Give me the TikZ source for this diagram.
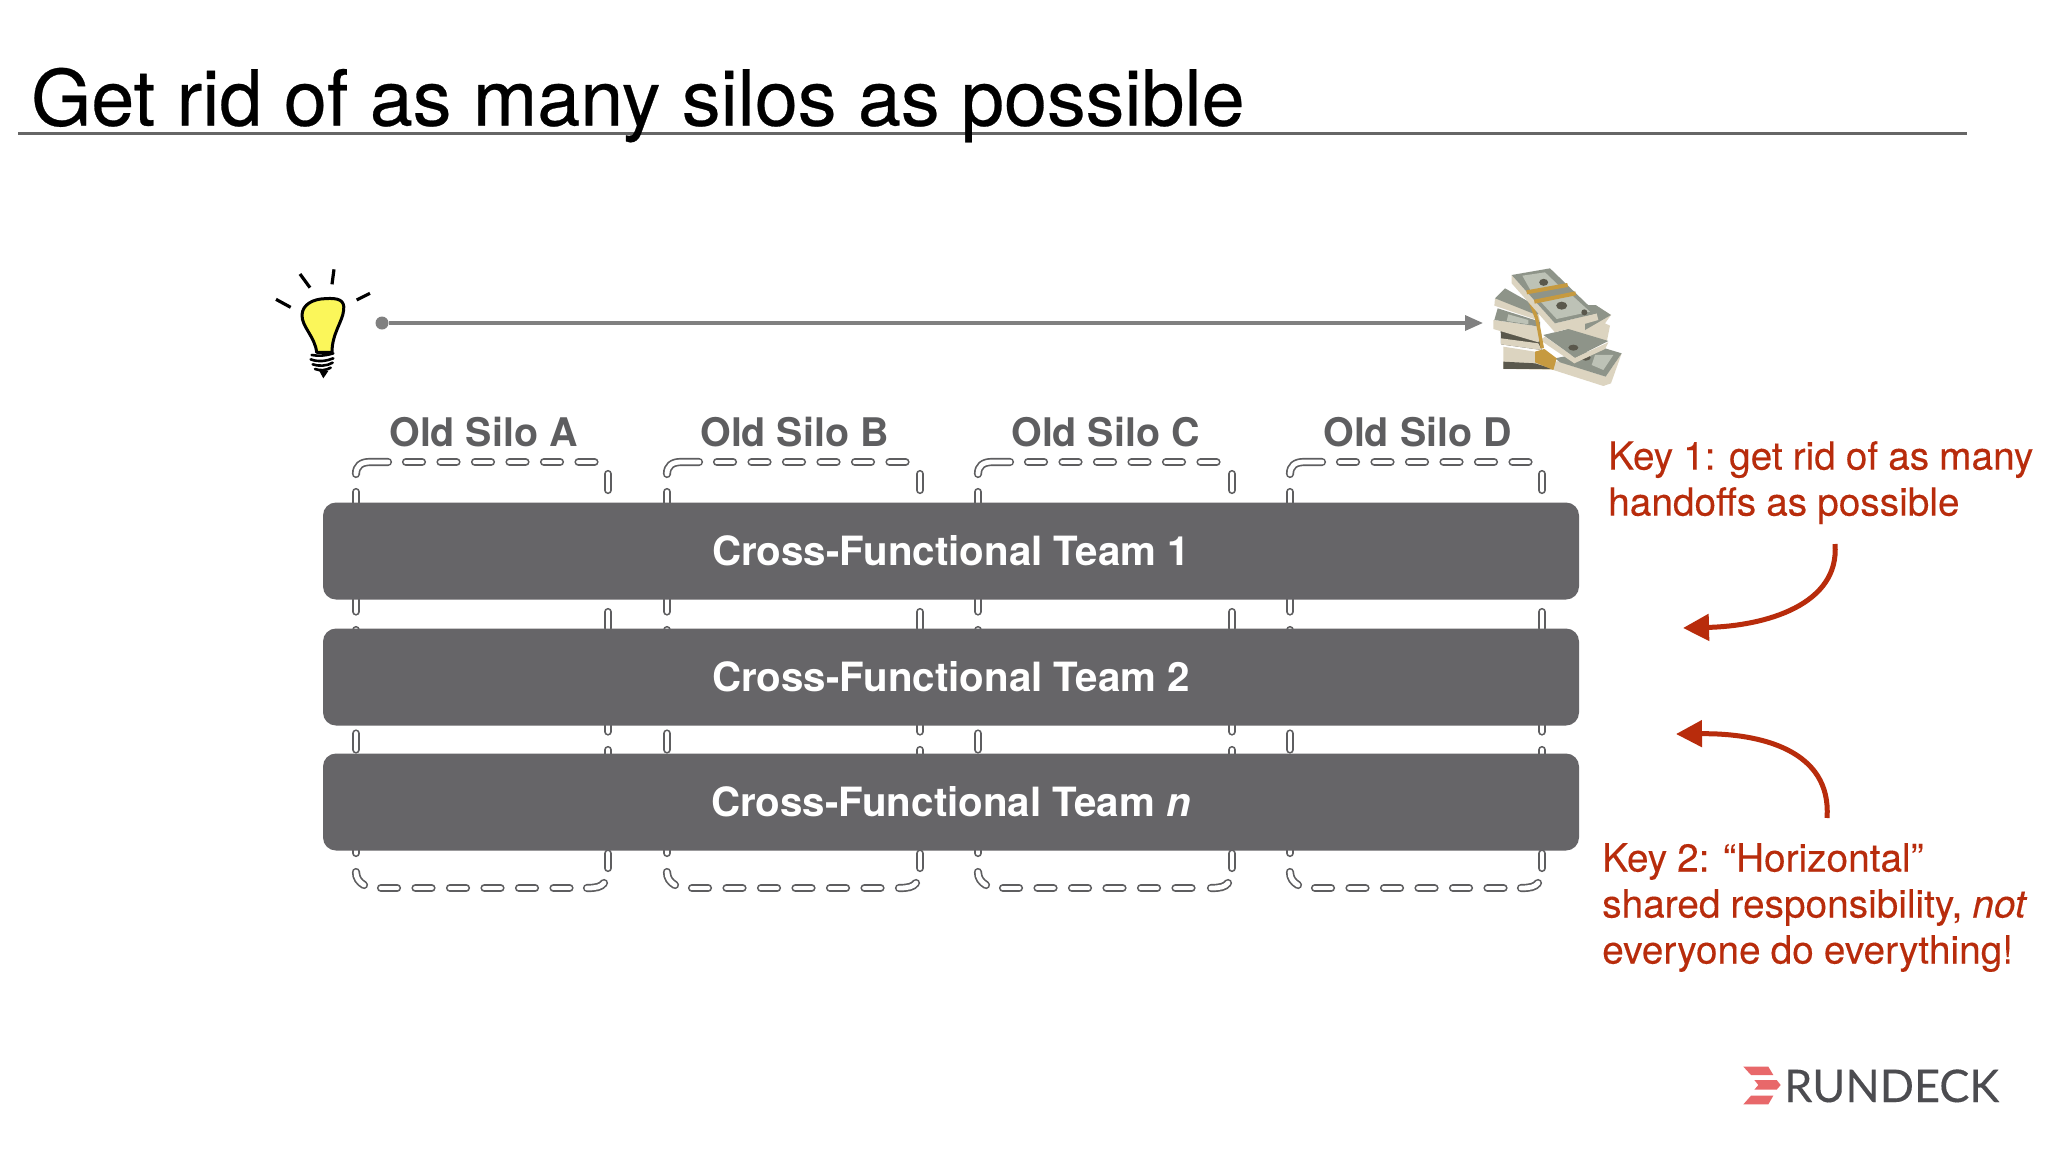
\documentclass[tikz,border=0pt]{standalone}
\usepackage{fontspec}
\setmainfont{TeX Gyre Heros}
\newfontfamily\logofont[FakeBold=0.2]{Lato}
\newfontfamily\titlefont[FakeBold=0.35]{TeX Gyre Heros}
\newfontfamily\keyfont[WordSpace=0.93,FakeBold=0.2]{TeX Gyre Heros}
\usetikzlibrary{arrows.meta}
\definecolor{titlerule}{HTML}{666666}
\definecolor{teamgrey}{HTML}{666568}
\definecolor{silogrey}{HTML}{5E5E60}
\definecolor{keyred}{HTML}{B82C0C}
\definecolor{logored}{HTML}{E8686A}
\definecolor{logogrey}{HTML}{4C4C50}
\definecolor{billgrey}{HTML}{8E9489}
\definecolor{billlight}{HTML}{BDC2B6}
\definecolor{billdark}{HTML}{5A584C}
\definecolor{papercream}{HTML}{DCD4C0}
\definecolor{strapgold}{HTML}{C69A40}
\definecolor{bulbyellow}{HTML}{FBF65A}
\tikzset{
  titletext/.style={anchor=base west,inner sep=0pt,font=\titlefont\fontsize{77.3}{80}\selectfont},
  silodash/.style={draw=silogrey,line width=1.7pt,double=white,double distance=4.8pt,line cap=round},
  silopattern/.style={silodash,dash pattern=on 16pt off 18.5pt},
  silolabel/.style={anchor=base,inner sep=0pt,text=silogrey,font=\fontsize{39.4}{42}\selectfont\bfseries},
  teambar/.style={fill=teamgrey,rounded corners=13pt,minimum width=1256pt,minimum height=97pt,inner sep=0pt,
    text=white,font=\fontsize{40.3}{42}\selectfont\bfseries},
  keytext/.style={anchor=north west,inner sep=0pt,align=left,text=keyred,font=\keyfont\fontsize{38.8}{46}\selectfont},
  keyarrow/.style={draw=keyred,line width=5pt,-{Triangle[length=26pt,width=26pt]}},
  timeline/.style={draw=gray,line width=3.3pt,-{Triangle[length=18pt,width=15pt]}},
  raystroke/.style={line width=3.2pt,line cap=butt},
  billface/.style={fill=billgrey},
  paperside/.style={fill=papercream},
  strapband/.style={draw=strapgold,line width=4pt},
}
\begin{document}
\begin{tikzpicture}[x=1pt,y=-1pt]
  \useasboundingbox (0,0) rectangle (2048,1152);
  \fill[white] (0,0) rectangle (2048,1152);

  \draw[titlerule,line width=3pt] (18,133) -- (1967,133);
  \node[titletext] (title) at (31,125.5) {Get rid of as many silos as possible};

  \begin{scope}[shift={(270,265)},x=0.3333pt,y=-0.3333pt]
    \draw[raystroke] (18,103) -- (62,127) (90,27) -- (120,68) (192,13) -- (186,58) (260,105) -- (300,85);
    \draw[fill=bulbyellow,line width=3pt,line join=round] (165,101) .. controls (205,98) and (225,105) .. (221,135)
      .. controls (218,170) and (186,205) .. (186,262) -- (140,262)
      .. controls (135,215) and (95,185) .. (96,150) .. controls (97,118) and (130,102) .. (165,101) -- cycle;
    \draw[line width=2.6pt,line cap=round] (125,270) .. controls (145,274) and (170,272) .. (190,265)
      (122,283) .. controls (145,292) and (170,288) .. (190,280)
      (128,298) .. controls (145,304) and (170,304) .. (188,293)
      (135,312) .. controls (150,318) and (170,316) .. (182,308);
    \fill (148,318) -- (175,318) -- (160,340) -- cycle;
  \end{scope}

  \begin{scope}[shift={(1485,255)},x=0.3333pt,y=-0.3333pt]
    \fill[paperside] (240,225) -- (330,150) -- (378,180) -- (360,205) -- (375,212) -- (365,262) -- cycle;
    \fill[billgrey] (300,150) -- (332,150) -- (378,180) -- (300,225) -- cycle;
    \fill[papercream] (55,275) -- (150,290) -- (215,322) -- (210,345) -- (55,342) -- cycle;
    \fill[billdark] (55,320) -- (150,325) -- (205,342) -- (55,342) -- cycle;
    \fill[paperside] (205,345) -- (215,318) -- (362,365) -- (410,295) -- (378,385) -- (355,393) -- cycle;
    \fill[billface] (210,310) -- (360,280) -- (410,295) -- (362,365) -- (225,322) -- cycle;
    \fill[billlight] (330,300) -- (385,300) -- (355,345) -- (320,330) -- cycle;
    \fill[billdark] (302,308) ellipse (5pt and 3pt);
    \fill[strapgold] (150,290) -- (178,282) -- (215,310) -- (205,345) -- (150,322) -- cycle;
    \fill[billdark] (47,225) -- (160,240) -- (170,285) -- (48,268) -- cycle;
    \fill[papercream] (48,250) -- (160,265) -- (170,285) -- (48,268) -- cycle;
    \fill[paperside] (165,255) -- (180,245) -- (270,308) -- (370,262) -- (360,282) -- (268,325) -- cycle;
    \fill[billface] (175,240) -- (250,222) -- (370,258) -- (270,308) -- cycle;
    \fill[billdark] (265,278) ellipse (5pt and 3pt);
    \fill[paperside] (25,195) -- (165,215) -- (170,240) -- (160,262) -- (25,222) -- cycle;
    \fill[billface] (38,160) -- (165,200) -- (165,215) -- (28,195) -- cycle;
    \fill[billlight] (70,178) -- (130,195) -- (130,208) -- (65,198) -- cycle;
    \fill[paperside] (30,130) -- (160,175) -- (165,198) -- (28,152) -- cycle;
    \fill[billface] (30,130) -- (60,100) -- (175,165) -- (155,180) -- cycle;
    \draw[strapband,line width=3.4pt] (130,125) -- (155,190) -- (162,225) -- (172,280);
    \fill[paperside] (80,60) -- (80,85) -- (210,232) -- (340,195) -- (335,175) -- (210,205) -- cycle;
    \fill[billface] (80,60) -- (195,40) -- (335,175) -- (210,205) -- cycle;
    \fill[billlight] (112,62) -- (180,52) -- (225,95) -- (140,112) -- cycle;
    \fill[billlight] (165,138) -- (260,120) -- (315,170) -- (215,192) -- cycle;
    \fill[billdark] (176,82) ellipse (4.5pt and 3.5pt);
    \fill[billdark] (230,152) ellipse (5.5pt and 4pt);
    \fill[billdark] (298,172) ellipse (3pt and 3pt);
    \draw[strapband] (125,112) -- (248,90);
    \draw[strapband] (148,140) -- (272,115);
  \end{scope}

  \node[circle,fill=gray,minimum size=13pt,inner sep=0pt] (startdot) at (382,323) {};
  \coordinate (moneytip) at (1483,323);
  \draw[timeline] (startdot) -- (moneytip);

  \foreach \x/\w/\lab in {356/252/A,667/253/B,978/254/C,1290/252/D} {
    \begin{scope}[shift={(\x,462)}]
      \draw[silodash] (0,12) .. controls (0,4) and (5,0) .. (14,0) -- (32,0);
      \draw[silopattern] (50,0) -- (240,0);
      \draw[silopattern] (\w,12) -- (\w,406);
      \draw[silodash] (\w-21,426) .. controls (\w-12,426) and (\w-7,425) .. (\w-4,421);
      \draw[silopattern] (25,426) -- (214,426);
      \draw[silopattern] (0,30) -- (0,393);
      \draw[silodash] (0,410) .. controls (0,416) and (3,420) .. (8,423);
      \node[silolabel] (silo\lab) at (127.5,-16) {Old Silo \lab};
    \end{scope}
  }

  \node[teambar] (teamone) at (951,551) {Cross-Functional Team 1};
  \node[teambar] (teamtwo) at (951,677) {Cross-Functional Team 2};
  \node[teambar] (teamn) at (951,802) {Cross-Functional Team \textit{n}};

  \node[keytext] (keyone) at (1608,441) {Key 1: get rid of as many\\handoffs as possible};
  \coordinate (keyonefrom) at (1835,544);
  \coordinate (keyoneto) at (1683,628);
  \draw[keyarrow] (keyonefrom) .. controls (1840,605) and (1765,626) .. (keyoneto);

  \node[keytext] (keytwo) at (1602,843) {Key 2: “Horizontal”\\shared responsibility, \textit{not}\\everyone do everything!};
  \coordinate (keytwofrom) at (1827,818);
  \coordinate (keytwoto) at (1676,734);
  \draw[keyarrow] (keytwofrom) .. controls (1832,750) and (1760,733) .. (keytwoto);

  \begin{scope}[shift={(1735,1055)},x=0.3333pt,y=-0.3333pt]
    \fill[logored] (25,35) -- (100,35) -- (115,60) -- (48,60) -- cycle;
    \fill[logored] (58,75) -- (125,75) -- (137,90) -- (125,104) -- (58,104) -- (70,90) -- cycle;
    \fill[logored] (48,122) -- (115,122) -- (100,148) -- (25,148) -- cycle;
  \end{scope}
  \node[anchor=base west,inner sep=0pt,text=logogrey,font=\logofont\fontsize{45}{46}\selectfont] (logo) at (1784,1102) {RUNDECK};
\end{tikzpicture}
\end{document}
